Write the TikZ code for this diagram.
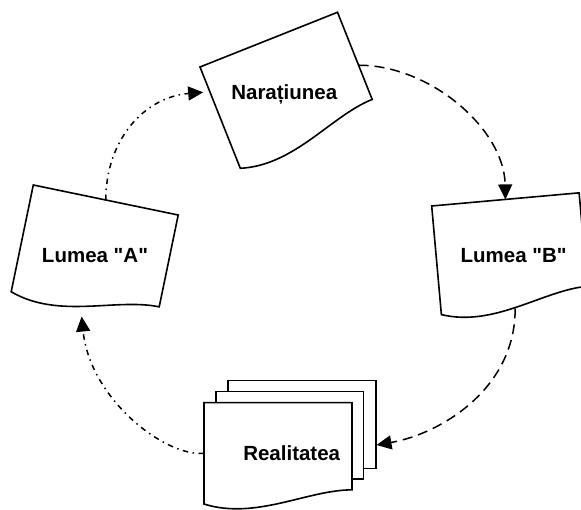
\documentclass[tikz,border=0pt]{standalone}
\usepackage{fontspec}
\newfontfamily\capfont{Liberation Sans}
\usetikzlibrary{arrows.meta}

\tikzset{
  outline/.style={draw=black, line width=1.6pt, fill=white, line join=miter},
  % single page with a wavy lower edge; argument = page height, width fixed at 148
  docpage/.pic={
    \draw[outline] (0,0) -- (148,0) -- (148,{-0.83*#1})
      .. controls ({0.7*148},{-0.83*#1}) and ({0.35*148},{-1.12*#1}) .. (0,{-0.965*#1}) -- cycle;
  },
  caption/.style={anchor=base, inner sep=0pt, font=\capfont\fontsize{20.5}{24}\selectfont\bfseries},
  link/.style={line width=1.5pt, -{Triangle[length=15pt,width=14pt]}},
  dashlink/.style={link, dash pattern=on 10pt off 6pt},
  dotlink/.style={link, dash pattern=on 5.5pt off 4.5pt on 1.5pt off 4.5pt},
}

\begin{document}
\begin{tikzpicture}[x=1pt, y=1pt]
  \fill[white] (0,0) rectangle (581,509);
  \useasboundingbox (0,0) rectangle (581,509);

  % Lumea "A"
  \begin{scope}[shift={(33.3,324)}, rotate=-11.7]
    \pic[transform shape] {docpage=113};
    \coordinate (la-n) at (74,0);
    \coordinate (la-s) at (74,-119);
  \end{scope}

  % Naratiunea
  \begin{scope}[shift={(200,442)}, rotate=21.7]
    \pic[transform shape] {docpage=113};
    \coordinate (nar-w) at (-6.4,-24.7);
    \coordinate (nar-e) at (148,-57);
  \end{scope}

  % Lumea "B"
  \begin{scope}[shift={(431.7,303)}, rotate=5.1]
    \pic[transform shape] {docpage=113};
    \coordinate (lb-n) at (74,0);
    \coordinate (lb-s) at (74,-109.4);
  \end{scope}

  % Realitatea: stack of pages
  \begin{scope}[shift={(204,106.3)}]
    \draw[outline] (23.7,22) rectangle (171.7,-65.6);
    \draw[outline] (12,11) rectangle (159.3,-76.3);
    \pic {docpage=105};
    \coordinate (real-w) at (0,-50.6);
    \coordinate (real-e) at (172.5,-42.3);
  \end{scope}

  % captions
  \node[caption] (tnar) at (284.3,409) {Narațiunea};
  \node[caption] (tla) at (95,246.7) {Lumea "A"};
  \node[caption] (tlb) at (513.7,246.7) {Lumea "B"};
  \node[caption] (treal) at (291.7,49) {Realitatea};

  % connectors
  \draw[dotlink] (la-n) .. controls (106,370) and (145,412) .. (nar-w);
  \draw[dashlink] (nar-e) .. controls (430,444) and (504.3,380) .. (lb-n);
  \draw[dashlink] (lb-s) .. controls (515.7,120) and (440,75) .. (real-e);
  \draw[dotlink] (real-w) .. controls (165,52) and (90,110) .. (la-s);
\end{tikzpicture}
\end{document}
